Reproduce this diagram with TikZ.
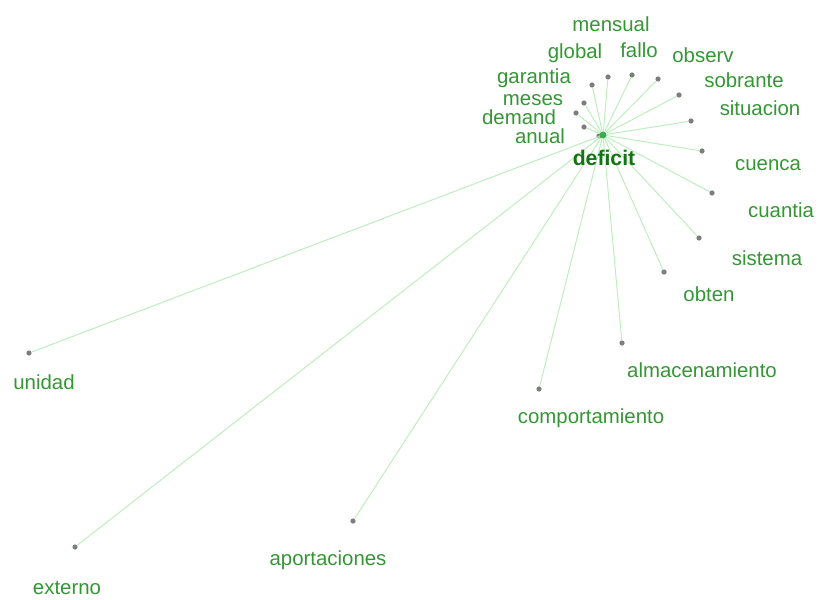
\documentclass[tikz,border=0pt]{standalone}
\usepackage{fontspec}
\setmainfont{Liberation Sans}
\usepackage{tikz}
\usetikzlibrary{positioning}
\definecolor{TermGreen}{RGB}{52,150,52}
\definecolor{HubGreen}{RGB}{20,115,20}
\definecolor{LinkGreen}{RGB}{190,238,190}
\definecolor{DotGray}{RGB}{125,125,125}
\definecolor{HubDot}{RGB}{60,170,80}
\tikzset{
  termdot/.style={circle,fill=DotGray,inner sep=0pt,minimum size=2.6pt},
  hubdot/.style={circle,fill=HubDot,inner sep=0pt,minimum size=3.4pt},
  termlabel/.style={text=TermGreen,inner sep=0pt,font=\fontsize{10.2}{12}\selectfont},
  hublabel/.style={text=HubGreen,inner sep=0pt,font=\fontsize{10.6}{12}\selectfont\bfseries},
  link/.style={draw=LinkGreen,line width=0.5pt}
}
\begin{document}
\begin{tikzpicture}[x=0.5pt,y=-0.5pt]
\useasboundingbox (0,0) rectangle (818,599);
% hub
\node[hubdot] (deficit) at (603,135) {};
% term dots
\node[termdot] (mensual) at (608,77) {};
\node[termdot] (global) at (592,85) {};
\node[termdot] (fallo) at (632,75) {};
\node[termdot] (observ) at (658,79) {};
\node[termdot] (garantia) at (584,103) {};
\node[termdot] (sobrante) at (679,95) {};
\node[termdot] (meses) at (576,113) {};
\node[termdot] (situacion) at (691,121) {};
\node[termdot] (demand) at (584,127) {};
\node[termdot] (anual) at (599,136) {};
\node[termdot] (cuenca) at (702,151) {};
\node[termdot] (cuantia) at (712,193) {};
\node[termdot] (sistema) at (699,238) {};
\node[termdot] (obten) at (664,272) {};
\node[termdot] (almac) at (622,343) {};
\node[termdot] (comport) at (539,389) {};
\node[termdot] (unidad) at (29,353) {};
\node[termdot] (aport) at (353,521) {};
\node[termdot] (externo) at (75,547) {};
% links
\foreach \t in {mensual,global,fallo,observ,garantia,sobrante,meses,situacion,
  demand,anual,cuenca,cuantia,sistema,obten,almac,comport,unidad,aport,externo}
  \draw[link] (deficit) -- (\t);
\node[hubdot] at (deficit) {};
\node[hublabel] (deficitlab) at (604,158) {deficit};
% term labels
\node[termlabel] (mensuallab) at (611,24) {mensual};
\node[termlabel] (globallab) at (575,53) {global};
\node[termlabel] (fallolab) at (639,50) {fallo};
\node[termlabel] (observlab) at (703,55) {observ};
\node[termlabel] (garantialab) at (534,78) {garantia};
\node[termlabel] (sobrantelab) at (744,80) {sobrante};
\node[termlabel] (meseslab) at (533,100) {meses};
\node[termlabel] (situacionlab) at (760,108) {situacion};
\node[termlabel] (demandlab) at (519,117) {demand};
\node[termlabel] (anuallab) at (540,136) {anual};
\node[termlabel] (cuencalab) at (768,165) {cuenca};
\node[termlabel] (cuantialab) at (781,210) {cuantia};
\node[termlabel] (sistemalab) at (767,258) {sistema};
\node[termlabel] (obtenlab) at (709,294) {obten};
\node[termlabel] (almaclab) at (702,370) {almacenamiento};
\node[termlabel] (comportlab) at (591,418) {comportamiento};
\node[termlabel] (unidadlab) at (44,382) {unidad};
\node[termlabel] (aportlab) at (328,560) {aportaciones};
\node[termlabel] (externolab) at (67,588) {externo};
\end{tikzpicture}
\end{document}
